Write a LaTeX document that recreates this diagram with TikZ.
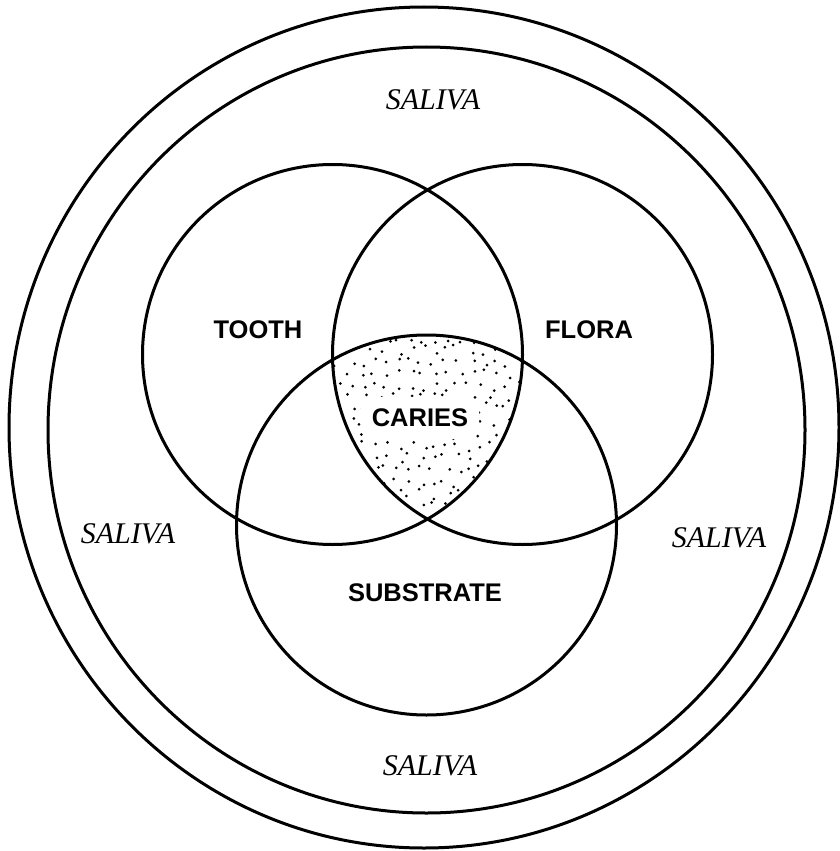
\documentclass[tikz,border=0pt]{standalone}
\usepackage{fontspec}
\setmainfont{Liberation Serif}
\setsansfont{Liberation Sans}
\usetikzlibrary{positioning}

\begin{document}
\begin{tikzpicture}[x=1pt,y=-1pt]

\tikzstyle{ring}=[draw,line width=3pt]
\tikzstyle{factor}=[font=\sffamily\bfseries\fontsize{25.5}{25.5}\selectfont]
\tikzstyle{fluid}=[font=\itshape\fontsize{30}{30}\selectfont]

\useasboundingbox (0,0) rectangle (840,851);

\coordinate (tc) at (332.5,354.5);
\coordinate (fc) at (522.5,354.5);
\coordinate (sc) at (426.5,525);

% stippled overlap
\begin{scope}
\clip (tc) circle (190);
\clip (fc) circle (190);
\clip (sc) circle (190);
\pgfmathsetseed{42}
\foreach \i in {0,...,17}
  \foreach \j in {0,...,19}
    \fill (326+12*\i+10*rnd-5, 326+12*\j+10*rnd-5) circle (1.5);
\end{scope}

\node (caries) [factor,fill=white,inner xsep=11pt,inner ysep=12pt,rounded corners=12pt] at (420,418) {CARIES};

% saliva rings
\draw[ring] (424,427.5) ellipse (415 and 420.5);
\draw[ring] (426.5,430) ellipse (378.5 and 383);

% the three factors
\draw[ring] (tc) circle (190);
\draw[ring] (fc) circle (190);
\draw[ring] (sc) circle (190);

\node (tooth) [factor] at (258,330) {TOOTH};
\node (flora) [factor] at (589,330) {FLORA};
\node (substrate) [factor] at (425,593) {SUBSTRATE};

\node (salivaN) [fluid] at (433,100) {SALIVA};
\node (salivaW) [fluid] at (128,534) {SALIVA};
\node (salivaE) [fluid] at (719,538) {SALIVA};
\node (salivaS) [fluid] at (430,766) {SALIVA};

\end{tikzpicture}
\end{document}
